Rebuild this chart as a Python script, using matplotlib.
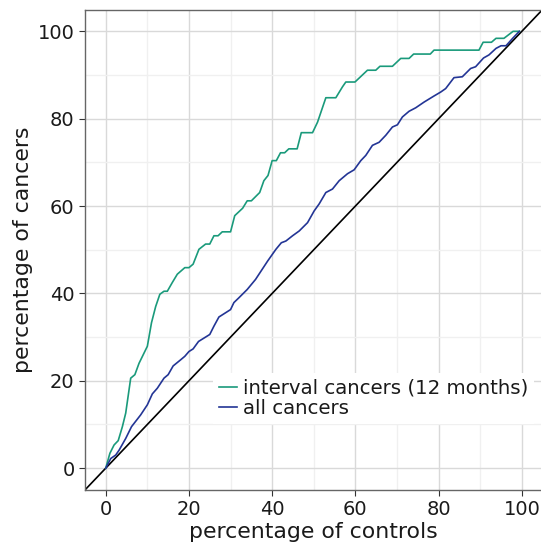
import matplotlib
matplotlib.use("Agg")
import matplotlib.pyplot as plt
from matplotlib.ticker import MultipleLocator

interval_x = [0, 1, 2, 3, 4, 4.8, 6, 7, 8, 10, 11, 12, 13, 14, 14.8, 16, 17.2, 19, 20, 21, 22.4,
              24, 25, 26, 27, 28, 30, 31, 32.9, 34, 35, 37, 38, 39, 40, 41, 42, 43, 44, 46, 47,
              49.7, 50.9, 52.9, 55.3, 56.9, 57.7, 59.9, 62.9, 64.9, 65.9, 68.9, 70.9, 72.9, 74,
              78, 78.9, 89.7, 90.7, 92.7, 93.8, 95.7, 97.9, 99.4]
interval_y = [0, 3.4, 5.3, 6.3, 9.5, 12.6, 20.6, 21.4, 24, 27.9, 33.3, 37, 39.8, 40.5, 40.5, 42.5,
              44.4, 45.9, 45.9, 46.7, 50.1, 51.3, 51.3, 53.2, 53.2, 54.1, 54.1, 57.8, 59.5, 61.2,
              61.2, 63.1, 65.8, 67, 70.4, 70.4, 72.2, 72.2, 73.1, 73.1, 76.8, 76.8, 79.2, 84.8,
              84.8, 87.3, 88.4, 88.4, 91.1, 91.1, 92, 92, 93.8, 93.8, 94.8, 94.8, 95.7, 95.7,
              97.5, 97.5, 98.4, 98.4, 100, 100]

all_x = [0, 1.2, 2.4, 3.2, 4.8, 6.2, 8.4, 10, 11.2, 12.4, 14, 15, 16.2, 18, 19, 20, 21, 22.3, 25,
         26, 27.2, 30, 30.8, 32, 34, 36, 38.9, 40.9, 42.2, 43.3, 44.9, 46.5, 48.5, 50.1, 51.3,
         52.9, 54.5, 56.1, 58.1, 59.7, 61.3, 62.5, 64.1, 65.7, 67.3, 68.9, 70.1, 71.3, 72.9,
         74.5, 76.5, 78.9, 80.5, 81.7, 83.7, 85.7, 87.7, 88.9, 90.8, 92.1, 93.8, 95, 96.2,
         97.8, 99.4]
all_y = [0, 2.2, 3, 4.1, 6.8, 9.5, 12.2, 14.5, 17, 18.3, 20.6, 21.4, 23.4, 24.8, 25.6, 26.7,
         27.3, 29, 30.6, 32.5, 34.6, 36.3, 37.9, 39, 40.9, 43.2, 47.4, 50.1, 51.6, 52, 53.2,
         54.3, 56.2, 58.9, 60.5, 63.1, 63.9, 65.8, 67.4, 68.3, 70.4, 71.6, 73.9, 74.6, 76.2,
         78.1, 78.6, 80.4, 81.7, 82.5, 83.8, 85.2, 86.1, 86.9, 89.4, 89.6, 91.5, 91.9, 93.9,
         94.6, 96.1, 96.7, 96.7, 98.4, 100]

diag = [-5, 105]
labels = ["interval cancers (12 months)", "all cancers"]

fig = plt.figure(figsize=(5.41, 5.46), dpi=100)
ax = fig.add_axes([0.157, 0.1026, 0.846, 0.880])

ax.plot(interval_x, interval_y, color="#1a9a7b", lw=1.2, label=labels[0], zorder=3)
ax.plot(all_x, all_y, color="#233595", lw=1.2, label=labels[1], zorder=3)
ax.plot(diag, diag, color="black", lw=1.2, zorder=2)

ax.set_xlim(-5, 105)
ax.set_ylim(-5, 105)
ax.xaxis.set_major_locator(MultipleLocator(20))
ax.yaxis.set_major_locator(MultipleLocator(20))
ax.xaxis.set_minor_locator(MultipleLocator(10))
ax.yaxis.set_minor_locator(MultipleLocator(10))
ax.grid(which="major", color="#d9d9d9", lw=1.0)
ax.grid(which="minor", color="#f0f0f0", lw=1.0)
ax.set_axisbelow(True)
ax.tick_params(which="major", labelsize=14, length=4, color="#333333", labelcolor="#1a1a1a")
ax.tick_params(which="minor", length=0)
for s in ax.spines.values():
    s.set_color("#666666")
    s.set_linewidth(1.0)

ax.set_xlabel("percentage of controls", fontsize=15.8, color="#1a1a1a", labelpad=2)
ax.set_ylabel("percentage of cancers", fontsize=15.8, color="#1a1a1a", labelpad=3)

leg = ax.legend(loc="lower right", bbox_to_anchor=(0.982, 0.138), fontsize=14.25,
                handlelength=0.9, handletextpad=0.3, labelspacing=0.05,
                frameon=True, fancybox=False, borderpad=0.3, borderaxespad=0.0)
leg.get_frame().set_facecolor("white")
leg.get_frame().set_edgecolor("none")
leg.get_frame().set_alpha(1.0)
for t in leg.get_texts():
    t.set_color("#1a1a1a")

fig.savefig("out.png", dpi=100)
